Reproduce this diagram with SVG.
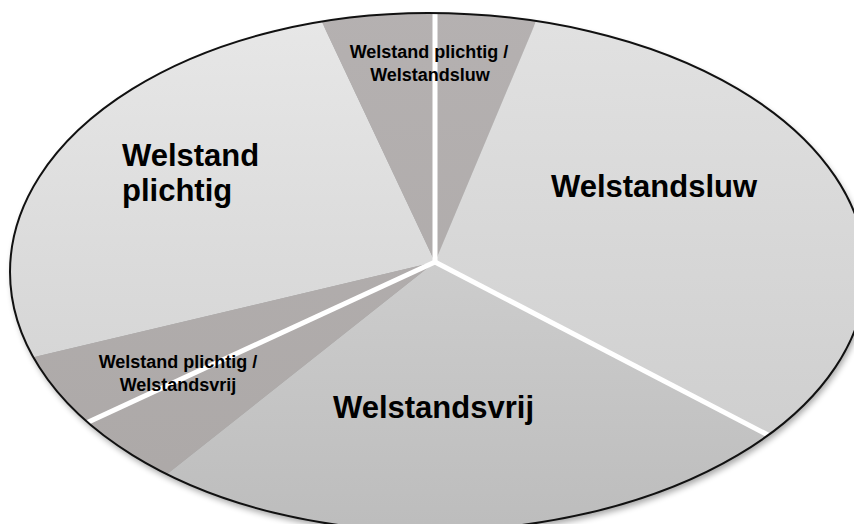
<svg xmlns="http://www.w3.org/2000/svg" width="854" height="524" viewBox="0 0 854 524">
  <defs>
    <style>
      .lbl { font-family: "Liberation Sans", Arial, sans-serif; font-weight: bold; fill: #000; }
      .big { font-size: 31px; }
      .small { font-size: 18px; }
      .dark { fill: url(#darkGrad); }
      .sep { stroke: #fff; stroke-width: 5; fill: none; }
    </style>
    <linearGradient id="gradLeft" gradientUnits="userSpaceOnUse" x1="0" y1="0" x2="0" y2="380">
      <stop offset="0" stop-color="#e8e8e8"/>
      <stop offset="1" stop-color="#d5d5d5"/>
    </linearGradient>
    <linearGradient id="gradRight" gradientUnits="userSpaceOnUse" x1="0" y1="0" x2="0" y2="480">
      <stop offset="0" stop-color="#e2e2e2"/>
      <stop offset="1" stop-color="#cdcdcd"/>
    </linearGradient>
    <linearGradient id="gradBottom" gradientUnits="userSpaceOnUse" x1="0" y1="262" x2="0" y2="524">
      <stop offset="0" stop-color="#cdcdcd"/>
      <stop offset="1" stop-color="#bdbdbd"/>
    </linearGradient>
    <linearGradient id="darkGrad" gradientUnits="userSpaceOnUse" x1="0" y1="0" x2="0" y2="524">
      <stop offset="0" stop-color="#b5b1b1"/>
      <stop offset="1" stop-color="#aca8a7"/>
    </linearGradient>
    <!-- outline of the pie: left and right halves have slightly different radii -->
    <path id="pieShape" d="M 428 13 A 438 259 0 0 1 866 272 A 438 259 0 0 1 428 531 A 418 259 0 0 1 10 272 A 418 259 0 0 1 428 13 Z"/>
    <clipPath id="pieClip">
      <use href="#pieShape"/>
    </clipPath>
    <filter id="soft" x="-10%" y="-10%" width="120%" height="120%">
      <feGaussianBlur stdDeviation="3"/>
    </filter>
  </defs>

  <rect width="854" height="524" fill="#fff"/>

  <!-- soft shadow under the pie -->
  <use href="#pieShape" transform="translate(2,4)" fill="#000" opacity="0.35" filter="url(#soft)"/>

  <g clip-path="url(#pieClip)">
    <g id="plichtig">
      <polygon fill="url(#gradLeft)" points="435,262 -50,377 -50,-50 288,-50"/>
    </g>
    <g id="plichtig-sluw">
      <polygon class="dark" points="435,262 288,-50 566,-50"/>
    </g>
    <g id="sluw">
      <polygon fill="url(#gradRight)" points="435,262 566,-50 900,-50 900,504"/>
    </g>
    <g id="vrij">
      <polygon fill="url(#gradBottom)" points="435,262 900,504 900,600 8,600"/>
    </g>
    <g id="plichtig-vrij">
      <polygon class="dark" points="435,262 8,600 -50,600 -50,377"/>
    </g>

    <g id="connectors">
      <line class="sep" x1="435" y1="262" x2="435" y2="-20"/>
      <line class="sep" x1="435" y1="262" x2="868" y2="487"/>
      <line class="sep" x1="435" y1="262" x2="-20" y2="472"/>
    </g>
  </g>

  <use href="#pieShape" fill="none" stroke="#111" stroke-width="2"/>

  <!-- labels -->
  <text class="lbl small" text-anchor="middle" x="429" y="58">Welstand plichtig /</text>
  <text class="lbl small" text-anchor="middle" x="430" y="81">Welstandsluw</text>

  <text class="lbl big" x="122" y="166">Welstand</text>
  <text class="lbl big" x="122" y="201">plichtig</text>

  <text class="lbl big" x="551" y="197">Welstandsluw</text>

  <text class="lbl big" x="333" y="418">Welstandsvrij</text>

  <text class="lbl small" text-anchor="middle" x="178" y="368">Welstand plichtig /</text>
  <text class="lbl small" text-anchor="middle" x="178" y="391">Welstandsvrij</text>
</svg>
